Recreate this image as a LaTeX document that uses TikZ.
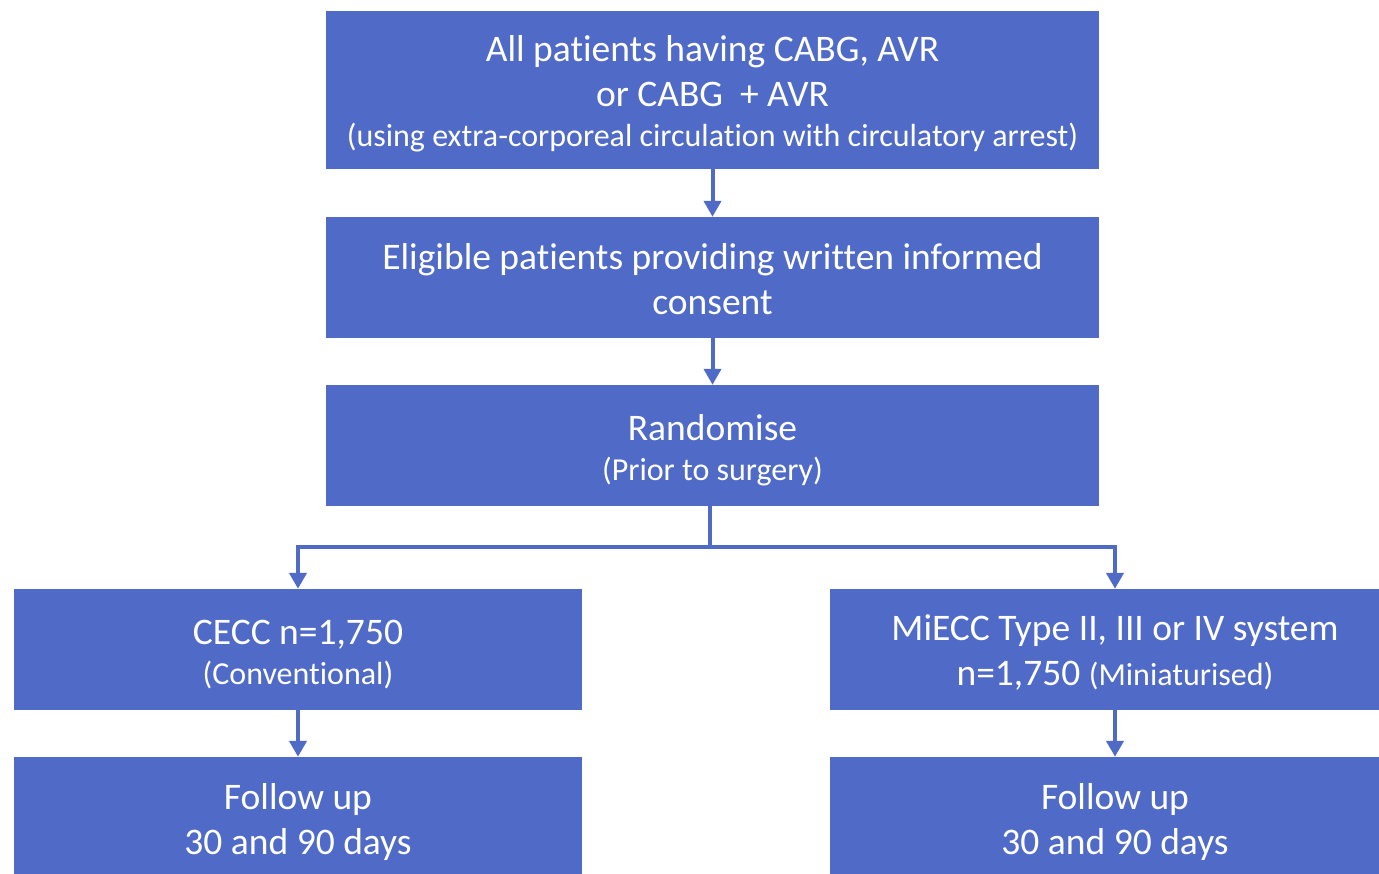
\documentclass[tikz,border=0pt]{standalone}
\usepackage{fontspec}
\setmainfont[Ligatures=NoCommon]{Carlito}
\usepackage{tikz}
\usetikzlibrary{arrows.meta,positioning}
\definecolor{boxblue}{RGB}{80,106,200}
\newcommand{\subtxt}{\fontsize{32}{41}\selectfont}
\tikzset{
  box/.style={fill=boxblue, inner sep=0pt},
  txt/.style={text=white, align=center, inner sep=0pt, yshift=-5pt,
    font=\fontsize{37.5}{45}\selectfont},
  link/.style={draw=boxblue, line width=4pt},
  arr/.style={link, -{Triangle[length=16pt,width=17pt]}}
}

\begin{document}
\begin{tikzpicture}[x=1pt,y=-1pt]
\useasboundingbox (0,0) rectangle (1379,873);
\node[box, minimum width=773pt, minimum height=158pt, label={[txt, yshift=1pt]center:{All patients having CABG, AVR\\ or CABG~ + AVR\\[-5pt] {\subtxt (using extra-corporeal circulation with circulatory arrest)}}}] (all) at (712.5,90) {};
\node[box, minimum width=773pt, minimum height=121pt, label={[txt, yshift=3pt]center:{Eligible patients providing written informed\\ consent}}] (elig) at (712.5,277.5) {};
\node[box, minimum width=773pt, minimum height=121pt, label={[txt]center:{Randomise\\[-5pt] {\subtxt (Prior to surgery)}}}] (rand) at (712.5,445.5) {};
\node[box, minimum width=568pt, minimum height=121pt, label={[txt]center:{CECC n=1,750\\[-5pt] {\subtxt (Conventional)}}}] (cecc) at (298,649.5) {};
\node[box, minimum width=570pt, minimum height=121pt, label={[txt, yshift=2pt]center:{MiECC Type II, III or IV system\\ n=1,750 {\subtxt (Miniaturised)}}}] (miecc) at (1115,649.5) {};
\node[box, minimum width=568pt, minimum height=121pt, label={[txt, yshift=0.5pt]center:{Follow up\\ 30 and 90 days}}] (fuA) at (298,817.5) {};
\node[box, minimum width=570pt, minimum height=121pt, label={[txt, yshift=0.5pt]center:{Follow up\\ 30 and 90 days}}] (fuB) at (1115,817.5) {};

\coordinate (split) at (710,547);
\draw[arr] (all) -- (elig);
\draw[arr] (elig) -- (rand);
\draw[link] (rand.south -| split) -- (split);
\draw[arr] (split) -| (cecc.north);
\draw[arr] (split) -| (miecc.north);
\draw[arr] (cecc) -- (fuA);
\draw[arr] (miecc) -- (fuB);

\end{tikzpicture}
\end{document}
